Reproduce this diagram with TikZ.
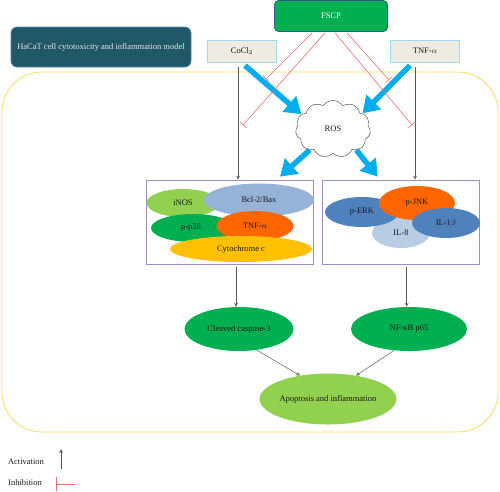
\documentclass[tikz,border=0pt]{standalone}
\usepackage{fontspec}
\setmainfont{Liberation Serif}
\usepackage{tikz}
\usetikzlibrary{calc}
\usetikzlibrary{positioning}
\usetikzlibrary{shapes,arrows.meta}

\definecolor{fscpGreen}{HTML}{00B050}
\definecolor{fscpBorder}{HTML}{2E5C8A}
\definecolor{modelTeal}{HTML}{215868}
\definecolor{sourceFill}{HTML}{EEECE1}
\definecolor{sourceBorder}{HTML}{9DD9F3}
\definecolor{frameYellow}{HTML}{FFD966}
\definecolor{panelPurple}{HTML}{9F8DC0}
\definecolor{rosBlue}{HTML}{00AEEF}
\definecolor{inhRed}{HTML}{F36B6B}
\definecolor{actGray}{HTML}{595959}
\definecolor{lightGreen}{HTML}{92D050}
\definecolor{paleBlue}{HTML}{95B3D7}
\definecolor{deepBlue}{HTML}{4F81BD}
\definecolor{iceBlue}{HTML}{B8CCE4}
\definecolor{hotOrange}{HTML}{FF6600}
\definecolor{goldYellow}{HTML}{FFC000}
\definecolor{textDark}{HTML}{1A1A1A}

\begin{document}
\begin{tikzpicture} [x=1pt, y=-1pt, >=Stealth, font=\fontsize{8.5}{10}\selectfont, text=textDark]
            % Set primary nodes
            \tikzset{
                frameNode/.style={
                        draw=frameYellow,
                        line width=0.8pt,
                        rectangle,
                        rounded corners=40pt,
                        minimum width=496pt,
                        minimum height=360pt
                    }
            }
            \tikzset{
                sourceNode/.style={
                        draw=sourceBorder,
                        line width=1pt,
                        fill=sourceFill,
                        rectangle,
                        minimum width=69pt,
                        minimum height=22pt
                    }
            }
            \tikzset{
                panelNode/.style={
                        draw=panelPurple,
                        line width=0.7pt,
                        rectangle,
                        minimum width=167pt,
                        minimum height=84pt
                    }
            }
            \tikzset{
                blob/.style={
                        ellipse,
                        inner sep=0pt
                    }
            }
            % Configure arrows
            \tikzstyle{actArrow} = [actGray, line width=0.5pt, -{Stealth[length=4pt, width=4pt, open]}]
            \tikzstyle{inhLine} = [inhRed, line width=0.6pt, -{Bar[width=9pt]}]
            \tikzstyle{bigArrow} = [rosBlue, line width=5.5pt, -{Triangle[length=16pt, width=20pt]}]
            % Placing nodes
            \useasboundingbox (0,0) rectangle (500,491);
            \node[frameNode](cellFrame) at (250,252){};
            \node[draw=fscpBorder, line width=0.8pt, fill=fscpGreen, rounded corners=4pt, minimum width=113pt, minimum height=31pt, text=white](fscp) at (331,16){FSCP};
            \node[draw=deepBlue, line width=0.6pt, fill=modelTeal, rounded corners=6pt, minimum width=180pt, minimum height=40pt, text=white!90!black](hacatModel) at (101,47){HaCaT cell cytotoxicity and inflammation model};
            \node[sourceNode](cocl) at (242,51){CoCl$_2$};
            \node[sourceNode](tnf) at (425,51){TNF-$\alpha$};
            \node[cloud, draw=actGray, line width=0.5pt, fill=white, cloud puffs=11, cloud puff arc=110, aspect=1.3, minimum width=75pt, minimum height=57pt, inner sep=0pt](ros) at (333,129){ROS};
            \node[panelNode](leftPanel) at (230,222){};
            \node[panelNode, right = 8pt of leftPanel, minimum width=157pt](rightPanel){};
            % left panel markers
            \node[blob, fill=lightGreen, minimum width=73pt, minimum height=28pt](inos) at (183,203){};
            \node[blob, fill=paleBlue, minimum width=110pt, minimum height=33pt](bclBax) at (259,200){};
            \node[blob, fill=fscpGreen, minimum width=84pt, minimum height=28pt](pp38) at (193,228){};
            \node[blob, fill=hotOrange, minimum width=77pt, minimum height=30pt](tnfAlpha) at (255,226){};
            \node[blob, fill=goldYellow, minimum width=142pt, minimum height=26pt](cytochrome) at (241,249){};
            \node at (inos){iNOS};
            \node at (bclBax){Bcl-2/Bax};
            \node[xshift=-2pt] at (pp38){p-p38};
            \node at (tnfAlpha){TNF-$\alpha$};
            \node at (cytochrome){Cytochrome c};
            % right panel markers
            \node[blob, fill=iceBlue, minimum width=58pt, minimum height=30pt](ilEight) at (401,233){IL-8};
            \node[blob, fill=deepBlue, minimum width=74pt, minimum height=30pt](perk) at (362,212){p-ERK};
            \node[blob, fill=hotOrange, minimum width=76pt, minimum height=34pt](pjnk) at (417,203){p-JNK};
            \node[blob, fill=deepBlue, minimum width=68pt, minimum height=30pt](ilOneBeta) at (446,223){IL-1$\beta$};
            % outcome nodes
            \node[blob, fill=fscpGreen, minimum width=109pt, minimum height=44pt](caspase) at (239,329){Cleaved caspase-3};
            \node[blob, fill=fscpGreen, minimum width=116pt, minimum height=44pt](nfkb) at (409,329){NF-κB p65};
            \node[blob, fill=lightGreen, minimum width=135pt, minimum height=51pt](apoptosis) at (328,399){Apoptosis and inflammation};
            % legend
            \node(activationLabel) at (26,462){Activation};
            \node(inhibitionLabel) at (25,483){Inhibition};
            \coordinate (legActFoot) at (61,469);
            \coordinate (legActHead) at (61,449);
            \coordinate (legInhFoot) at (75,484);
            \coordinate (legInhHead) at (56,484);
            % Draw arrows
            \draw[actArrow]([xshift=-4pt, yshift=-4pt]cocl.south) -- ([xshift=-4pt]cocl.south |- leftPanel.north);
            \draw[actArrow]([xshift=-10pt, yshift=-4pt]tnf.south) -- ([xshift=-10pt]tnf.south |- rightPanel.north);
            \draw[actArrow](leftPanel.south) ++(6,3) -- (caspase.north -| {$(leftPanel.south)+(6,0)$});
            \draw[actArrow](rightPanel.south) ++(6,3) -- (nfkb.north -| {$(rightPanel.south)+(6,0)$});
            \draw[actArrow](caspase.-50) -- (apoptosis.140);
            \draw[actArrow](nfkb.-125) -- (apoptosis.40);
            \draw[actArrow](legActFoot) -- (legActHead);
            \draw[bigArrow]([xshift=3pt, yshift=-3pt]cocl.south) -- (ros.155);
            \draw[bigArrow]([xshift=-15pt, yshift=-3pt]tnf.south) -- (ros.28);
            \draw[bigArrow](ros.222) -- ([xshift=50pt, yshift=3pt]leftPanel.north);
            \draw[bigArrow](ros.318) -- ([xshift=-23pt, yshift=3pt]rightPanel.north);
            \draw[inhLine]($(fscp.south)+(-19,1)$) -- (266,79);
            \draw[inhLine]($(fscp.south)+(-6,1)$) -- (243,125);
            \draw[inhLine]($(fscp.south)+(4,1)$) -- (412,125);
            \draw[inhLine]($(fscp.south)+(16,1)$) -- (389,80);
            \draw[inhLine, -{Bar[width=14pt]}](legInhFoot) -- (legInhHead);

        \end{tikzpicture}
\end{document}
